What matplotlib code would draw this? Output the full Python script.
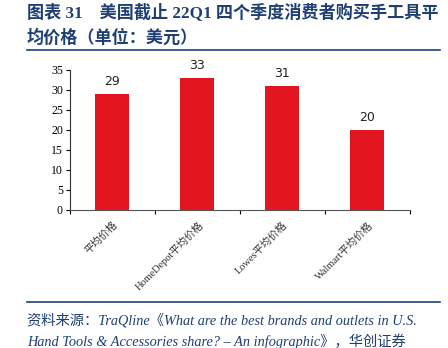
import matplotlib.pyplot as plt
import numpy as np

categories = ["平均价格", "HomeDepot平均价格", "Lowes平均价格", "Walmart平均价格"]
prices = [29, 33, 31, 20]
yticks = [0, 5, 10, 15, 20, 25, 30, 35]

navy = "#1F3F73"
red = "#E3151E"
cjk = ["Liberation Serif", "Noto Sans CJK SC"]

fig = plt.figure(figsize=(4.48, 3.48), dpi=100)
ax = fig.add_axes([0.156, 0.397, 0.759, 0.402])

x = np.arange(len(categories))
ax.bar(x, prices, width=0.4, color=red, zorder=2)
for xi, v in zip(x, prices):
    ax.text(xi, v + 1.5, str(v), ha="center", va="bottom", fontsize=9,
            family="DejaVu Sans", color="#222222")

ax.set_xlim(-0.5, len(categories) - 0.5)
ax.set_ylim(0, 35)
ax.set_yticks(yticks)
ax.set_yticklabels([str(t) for t in yticks], family="Liberation Serif", fontsize=8.5)
ax.set_xticks(np.arange(len(categories) + 1) - 0.5)
ax.set_xticklabels([])
ax.set_xticks(x, minor=True)
ax.set_xticklabels(categories, minor=True, rotation=45, ha="right", va="top",
                   rotation_mode="anchor", family=cjk, fontsize=7.5, color="#333333")
ax.tick_params(axis="x", which="minor", length=0, pad=7)
ax.tick_params(axis="x", which="major", length=3, direction="out")
ax.tick_params(axis="y", length=3, direction="out", pad=2)
for s in ["top", "right"]:
    ax.spines[s].set_visible(False)
ax.spines["left"].set_color("#333333")
ax.spines["bottom"].set_color("#555555")

fig.text(0.06, 0.965, "图表 31    美国截止 22Q1 四个季度消费者购买手工具平",
         family=cjk, fontsize=12.3, fontweight="bold", color=navy, va="center")
fig.text(0.06, 0.89, "均价格（单位：美元）",
         family=cjk, fontsize=12.3, fontweight="bold", color=navy, va="center")
fig.add_artist(plt.Line2D([0.06, 0.982], [0.857, 0.857], color=navy, lw=1.2))
fig.add_artist(plt.Line2D([0.06, 0.982], [0.132, 0.132], color=navy, lw=1.2))
fig.text(0.06, 0.08, "资料来源：TraQline《What are the best brands and outlets in U.S.",
         family=cjk, fontsize=10.3, style="italic", color=navy, va="center")
fig.text(0.06, 0.018, "Hand Tools & Accessories share? – An infographic》，华创证券",
         family=cjk, fontsize=10.3, style="italic", color=navy, va="center")

fig.savefig("out.png", dpi=100)
